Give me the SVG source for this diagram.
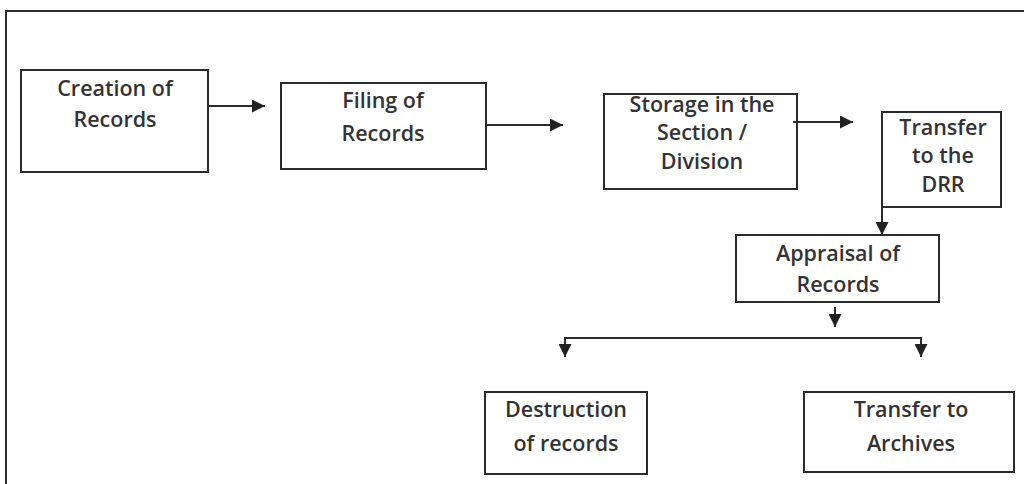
<svg xmlns="http://www.w3.org/2000/svg" width="1024" height="484" viewBox="0 0 1024 484">
<style>
  .box { fill: #ffffff; stroke: #2b2b2b; stroke-width: 2; }
  .lbl { font-family: "Open Sans", "Noto Sans", sans-serif; font-size: 21.5px; font-weight: 600; fill: #333333; text-anchor: middle; }
  .conn { stroke: #2b2b2b; stroke-width: 2; fill: none; }
  .head { fill: #222222; }
</style>
<defs>
  <marker id="arr" viewBox="0 0 12 12" refX="12" refY="6" markerWidth="13" markerHeight="13" markerUnits="userSpaceOnUse" orient="auto">
    <path d="M0,0 L12,6 L0,12 z" class="head"/>
  </marker>
</defs>
<rect width="1024" height="484" fill="#ffffff"/>
<path d="M6,490 L6,11 L1030,11" class="conn"/>

<g id="creation">
  <rect class="box" x="21" y="70" width="187" height="102"/>
  <text class="lbl" x="115" y="96">Creation of</text>
  <text class="lbl" x="115" y="127">Records</text>
</g>
<g id="filing">
  <rect class="box" x="281" y="83" width="205" height="86"/>
  <text class="lbl" x="383" y="108">Filing of</text>
  <text class="lbl" x="383" y="141">Records</text>
</g>
<g id="storage">
  <rect class="box" x="604" y="94" width="193" height="95"/>
  <text class="lbl" x="702" y="112">Storage in the</text>
  <text class="lbl" x="702" y="140">Section /</text>
  <text class="lbl" x="702" y="169">Division</text>
</g>
<g id="transfer-drr">
  <rect class="box" x="882" y="112" width="119" height="95"/>
  <text class="lbl" x="943" y="135">Transfer</text>
  <text class="lbl" x="943" y="163">to the</text>
  <text class="lbl" x="943" y="192">DRR</text>
</g>
<g id="appraisal">
  <rect class="box" x="736" y="235" width="203" height="67"/>
  <text class="lbl" x="838" y="261">Appraisal of</text>
  <text class="lbl" x="838" y="292">Records</text>
</g>
<g id="destruction">
  <rect class="box" x="485" y="392" width="162" height="82"/>
  <text class="lbl" x="566" y="417">Destruction</text>
  <text class="lbl" x="566" y="451">of records</text>
</g>
<g id="archives">
  <rect class="box" x="804" y="392" width="210" height="80"/>
  <text class="lbl" x="911" y="417">Transfer to</text>
  <text class="lbl" x="911" y="451">Archives</text>
</g>

<g id="connectors">
  <line class="conn" x1="208" y1="106" x2="265" y2="106" marker-end="url(#arr)"/>
  <line class="conn" x1="486" y1="125" x2="563" y2="125" marker-end="url(#arr)"/>
  <line class="conn" x1="793" y1="122" x2="853" y2="122" marker-end="url(#arr)"/>
  <line class="conn" x1="882" y1="200" x2="882" y2="235" marker-end="url(#arr)"/>
  <line class="conn" x1="835" y1="307" x2="835" y2="327" marker-end="url(#arr)"/>
  <path class="conn" d="M565,338 L921,338"/>
  <line class="conn" x1="565" y1="337" x2="565" y2="357" marker-end="url(#arr)"/>
  <line class="conn" x1="921" y1="337" x2="921" y2="357" marker-end="url(#arr)"/>
</g>
</svg>
